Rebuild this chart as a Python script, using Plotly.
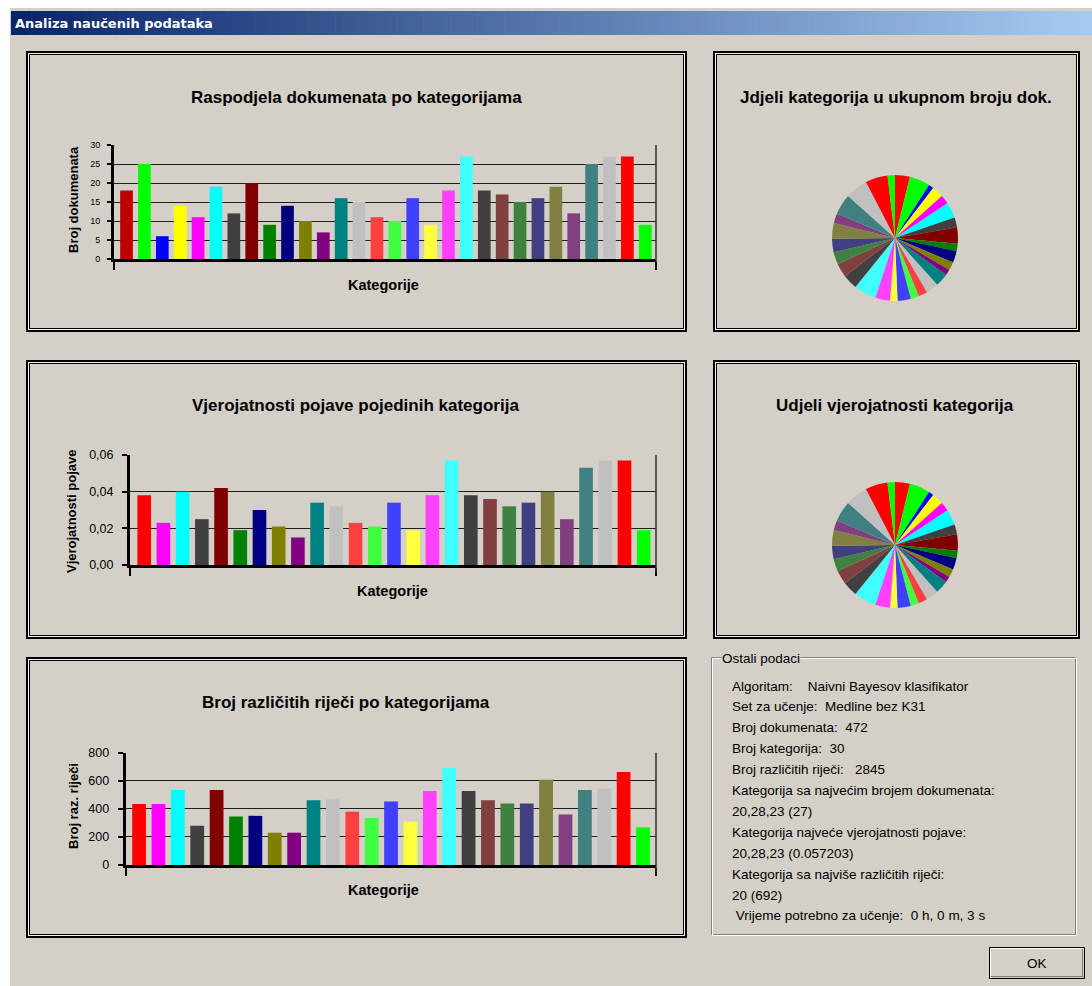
import plotly.graph_objects as go

# ---------------- data ----------------
CATS30 = list(range(1, 31))
DOCS = [18, 25, 6, 14, 11, 19, 12, 20, 9, 14, 10, 7, 16, 15, 11,
        10, 16, 9, 18, 27, 18, 17, 15, 16, 19, 12, 25, 27, 27, 9]
DOC_COLORS = ['#C00000', '#00FF00', '#0000FF', '#FFFF00', '#FF00FF', '#00FFFF',
              '#404040', '#800000', '#008000', '#000080', '#808000', '#800080',
              '#008080', '#C0C0C0', '#FF4040', '#40FF40', '#4040FF', '#FFFF40',
              '#FF40FF', '#40FFFF', '#404040', '#804040', '#408040', '#404080',
              '#808040', '#804080', '#408080', '#C0C0C0', '#FF0000', '#00FF00']
PIE_COLORS = ['#FF0000'] + DOC_COLORS[1:]

CATS27 = list(range(1, 28))
PROB = [0.038, 0.023, 0.040, 0.025, 0.042, 0.019, 0.030, 0.021, 0.015, 0.034,
        0.032, 0.023, 0.021, 0.034, 0.019, 0.038, 0.057, 0.038, 0.036, 0.032,
        0.034, 0.040, 0.025, 0.053, 0.057, 0.057, 0.019]
WORDS = [435, 435, 535, 280, 535, 345, 350, 230, 230, 462, 468, 380, 335, 452,
         308, 528, 692, 528, 462, 438, 438, 608, 360, 535, 545, 662, 268]
COLORS27 = ['#FF0000', '#FF00FF', '#00FFFF', '#404040', '#800000', '#008000',
            '#000080', '#808000', '#800080', '#008080', '#C0C0C0', '#FF4040',
            '#40FF40', '#4040FF', '#FFFF40', '#FF40FF', '#40FFFF', '#404040',
            '#804040', '#408040', '#404080', '#808040', '#804080', '#408080',
            '#C0C0C0', '#FF0000', '#00FF00']

Y1_TICKS = [0, 5, 10, 15, 20, 25, 30]
Y2_TICKS = [0, 0.02, 0.04, 0.06]
Y2_LABELS = ['0,00', '0,02', '0,04', '0,06']
Y3_TICKS = [0, 200, 400, 600, 800]

WINDOW_TITLE = 'Analiza naučenih podataka'
TITLES = ['Raspodjela dokumenata po kategorijama',
          'Vjerojatnosti pojave pojedinih kategorija',
          'Broj različitih riječi po kategorijama',
          'Jdjeli kategorija u ukupnom broju dok.',
          'Udjeli vjerojatnosti kategorija']
Y_TITLES = ['Broj dokumenata', 'Vjerojatnosti pojave', 'Broj raz. riječi']
X_TITLE = 'Kategorije'
GROUP_LABEL = 'Ostali podaci'
INFO_LINES = ['Algoritam:    Naivni Bayesov klasifikator',
              'Set za učenje:  Medline bez K31',
              'Broj dokumenata:  472',
              'Broj kategorija:  30',
              'Broj različitih riječi:   2845',
              'Kategorija sa najvećim brojem dokumenata:',
              '20,28,23 (27)',
              'Kategorija najveće vjerojatnosti pojave:',
              '20,28,23 (0.057203)',
              'Kategorija sa najviše različitih riječi:',
              '20 (692)',
              ' Vrijeme potrebno za učenje:  0 h, 0 m, 3 s']

# ---------------- helpers ----------------
W, H = 1092, 986
BG = '#D4D0C8'


def fx(p):
    return p / W


def fy(p):
    return 1 - p / H


shapes = []


def rect(x0, y0, x1, y1, fill=None, line=None, lw=0, layer='below'):
    d = dict(type='rect', xref='paper', yref='paper',
             x0=fx(x0), x1=fx(x1), y0=fy(y0), y1=fy(y1), layer=layer,
             line=dict(width=lw, color=line if line else 'rgba(0,0,0,0)'))
    if fill:
        d['fillcolor'] = fill
    shapes.append(d)


def line(x0, y0, x1, y1, color='black', lw=1, layer='above'):
    shapes.append(dict(type='line', xref='paper', yref='paper',
                       x0=fx(x0), x1=fx(x1), y0=fy(y0), y1=fy(y1), layer=layer,
                       line=dict(width=lw, color=color)))


annotations = []


def text(t, x, y, size=12, color='black', bold=False, xanchor='center',
         family='Liberation Sans', angle=0, bg=None):
    a = dict(text=t, x=fx(x), y=fy(y), xref='paper', yref='paper',
             showarrow=False, xanchor=xanchor, yanchor='middle', textangle=angle,
             font=dict(size=size, color=color, family=family,
                       weight='bold' if bold else 'normal'),
             borderpad=0)
    if bg:
        a['bgcolor'] = bg
    annotations.append(a)


# ---------------- window chrome ----------------
rect(10, 8, W, H, fill=BG)
N = 160
c0 = (10, 36, 106)
c1 = (166, 202, 240)
x_start, x_end = 11, W
for i in range(N):
    t = i / (N - 1)
    col = 'rgb(%d,%d,%d)' % tuple(round(a + (b - a) * t) for a, b in zip(c0, c1))
    xa = x_start + (x_end - x_start) * i / N
    xb = x_start + (x_end - x_start) * (i + 1) / N + 0.6
    rect(xa, 11, xb, 35, fill=col)
text(WINDOW_TITLE, 14, 23, size=13, color='white', bold=True,
     xanchor='left', family='DejaVu Sans')


def panel(x0, y0, x1, y1):
    rect(x0 + 1, y0 + 1, x1 - 1, y1 - 1, line='black', lw=2, layer='above')
    rect(x0 + 2.5, y0 + 2.5, x1 - 2.5, y1 - 2.5, line='#F4F4F4', lw=1, layer='above')
    rect(x0 + 3.5, y0 + 3.5, x1 - 3.5, y1 - 3.5, line='black', lw=1, layer='above')


panel(26, 51, 687, 332)
panel(713, 51, 1080, 332)
panel(26, 360, 687, 639)
panel(713, 360, 1080, 639)
panel(26, 657, 687, 938)

# ---------------- traces ----------------
fig = go.Figure()
fig.add_trace(go.Bar(x=CATS30, y=DOCS, marker=dict(color=DOC_COLORS, line=dict(width=0)),
                     xaxis='x', yaxis='y', showlegend=False))
fig.add_trace(go.Bar(x=CATS27, y=PROB, marker=dict(color=COLORS27, line=dict(width=0)),
                     xaxis='x2', yaxis='y2', showlegend=False))
fig.add_trace(go.Bar(x=CATS27, y=WORDS, marker=dict(color=COLORS27, line=dict(width=0)),
                     xaxis='x3', yaxis='y3', showlegend=False))
fig.add_trace(go.Pie(values=DOCS, labels=[str(c) for c in CATS30],
                     marker=dict(colors=PIE_COLORS, line=dict(width=0)),
                     sort=False, direction='clockwise', rotation=0,
                     textinfo='none', showlegend=False,
                     domain=dict(x=[fx(832), fx(958)], y=[fy(301), fy(175)])))
fig.add_trace(go.Pie(values=DOCS, labels=[str(c) for c in CATS30],
                     marker=dict(colors=PIE_COLORS, line=dict(width=0)),
                     sort=False, direction='clockwise', rotation=0,
                     textinfo='none', showlegend=False,
                     domain=dict(x=[fx(832), fx(958)], y=[fy(608), fy(482)])))


def xaxis(x0, x1, rng):
    return dict(domain=[fx(x0), fx(x1)], range=rng, showgrid=False, zeroline=False,
                showline=True, linecolor='black', linewidth=3, automargin=False,
                tickmode='array', tickvals=rng, ticks='outside', ticklen=8,
                tickwidth=2, tickcolor='black', showticklabels=False, fixedrange=True)


def yaxis(y0, y1, rng, anchor, vals, labels, fsize, standoff, ticklen):
    return dict(domain=[fy(y0), fy(y1)], range=rng, anchor=anchor, automargin=False,
                showgrid=True, gridcolor='#1E1E1E', gridwidth=1, zeroline=False,
                showline=True, linecolor='black', linewidth=3,
                tickmode='array', tickvals=vals, ticktext=labels,
                ticks='outside', ticklen=ticklen, tickwidth=2, tickcolor='black',
                ticklabelstandoff=standoff,
                tickfont=dict(size=fsize, family='Liberation Sans', color='black'),
                fixedrange=True)


layout = dict(
    width=W, height=H, autosize=False,
    margin=dict(l=0, r=0, t=0, b=0, pad=0, autoexpand=False),
    paper_bgcolor='white', plot_bgcolor='rgba(0,0,0,0)',
    bargap=0.29,
    xaxis=dict(xaxis(114, 656, [0.3, 30.6]), anchor='y'),
    yaxis=yaxis(259, 145, [0, 30], 'x', Y1_TICKS, [str(v) for v in Y1_TICKS], 9, 5, 4),
    xaxis2=dict(xaxis(130, 656, [0.26, 27.64]), anchor='y2'),
    yaxis2=yaxis(565, 455, [0, 0.06], 'x2', Y2_TICKS, Y2_LABELS, 12.5, 6, 5),
    xaxis3=dict(xaxis(125.7, 656, [0.31, 27.67]), anchor='y3'),
    yaxis3=yaxis(865, 752.7, [0, 800], 'x3', Y3_TICKS, [str(v) for v in Y3_TICKS], 12.5, 6, 5),
)

# right borders of plot areas
line(656, 145, 656, 262, color='#303030', lw=1.5)
line(656, 455, 656, 573, color='#303030', lw=1.5)
line(656, 752.7, 656, 873, color='#303030', lw=1.5)

# chart titles
text(TITLES[0], 356, 97, size=17, bold=True)
text(TITLES[1], 355, 405, size=17, bold=True)
text(TITLES[2], 346, 702, size=17, bold=True)
text(TITLES[3], 896, 97, size=17, bold=True)
text(TITLES[4], 895, 405, size=17, bold=True)
# axis titles
text(Y_TITLES[0], 73, 200, size=13, bold=True, angle=-90)
text(Y_TITLES[1], 72, 511, size=13, bold=True, angle=-90)
text(Y_TITLES[2], 73, 806, size=13, bold=True, angle=-90)
text(X_TITLE, 383, 285, size=14.5, bold=True)
text(X_TITLE, 392, 591, size=14.5, bold=True)
text(X_TITLE, 383, 890, size=14.5, bold=True)

# group box
rect(711.5, 657.5, 1075.5, 934.5, line='#808080', lw=1, layer='above')
rect(712.5, 658.5, 1076.5, 935.5, line='white', lw=1, layer='above')
text(GROUP_LABEL, 721, 658, size=13.5, xanchor='left', bg=BG)
for i, t in enumerate(INFO_LINES):
    text(t.replace(' ', '&nbsp;') if '  ' in t else t, 731, 686 + 20.9 * i,
         size=13.5, xanchor='left')

# OK button
rect(989.5, 947.5, 1084.5, 978.5, fill=BG, line='black', lw=1, layer='above')
line(990.5, 948.5, 1083.5, 948.5, color='white', lw=1)
line(990.5, 948.5, 990.5, 977.5, color='white', lw=1)
line(990.5, 976.5, 1083.5, 976.5, color='#808080', lw=1)
line(1082.5, 948.5, 1082.5, 977.5, color='#808080', lw=1)
text('OK', 1037, 963, size=13.5)

layout['shapes'] = shapes
layout['annotations'] = annotations
fig.update_layout(**layout)
fig.write_html('out.html')
